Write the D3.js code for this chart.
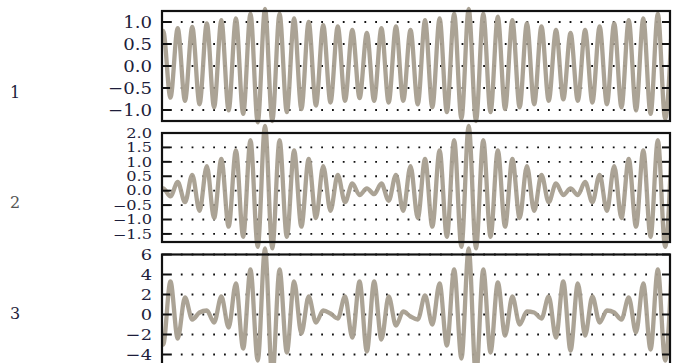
<!DOCTYPE html>
<html><head><meta charset="utf-8">
<script src="https://cdn.jsdelivr.net/npm/d3@7"></script>
<style>html,body{margin:0;padding:0;background:#fff;} svg{display:block}</style>
</head><body><svg id="c" width="673" height="363"></svg>
<script>
// Half-cycle index of each carrier extremum (even = carrier crest)
const halfCycleIndex = d3.range(-15, 57);
// Signed extremum values
const series1 = [-0.70,0.80,-0.72,0.86,-0.79,0.89,-0.87,0.97,
 -0.94,1.04,-1.01,1.08,-1.09,1.19,-1.28,1.30,
 -1.25,1.19,-1.05,1.08,-0.98,1.00,-0.90,0.93,
 -0.83,0.90,-0.79,0.82,-0.73,0.75,-0.79,0.86,
 -0.83,0.90,-0.79,0.82,-0.87,1.04,-0.94,1.08,
 -1.05,1.19,-1.20,1.30,-1.25,1.19,-1.05,1.12,
 -0.98,1.04,-0.94,0.97,-0.87,0.90,-0.79,0.82,
 -0.76,0.75,-0.79,0.82,-0.83,0.90,-0.87,0.97,
 -0.94,1.04,-1.01,1.08,-1.09,1.19,-1.20,1.25];
const series2 = [-0.12,0.08,-0.20,0.30,-0.40,0.55,-0.70,0.85,
 -0.95,1.10,-1.25,1.40,-1.60,1.75,-1.95,2.25,
 -2.00,1.75,-1.60,1.40,-1.25,1.10,-0.95,0.85,
 -0.70,0.55,-0.40,0.25,-0.15,0.08,-0.12,0.25,
 -0.35,0.55,-0.70,0.85,-0.95,1.10,-1.25,1.40,
 -1.60,1.75,-1.95,2.25,-2.00,1.75,-1.60,1.40,
 -1.25,1.10,-0.95,0.85,-0.70,0.55,-0.40,0.25,
 -0.15,0.08,-0.15,0.30,-0.40,0.55,-0.70,0.85,
 -0.95,1.10,-1.25,1.40,-1.60,1.75,-1.95,2.20];
const series3 = [2.6,-3.0,3.3,-2.4,1.7,-0.5,0.2,0.4,
 -0.8,1.8,-1.3,3.1,-3.4,4.5,-4.6,6.6,
 -6.3,4.5,-3.8,3.3,-1.9,1.8,-0.8,0.4,
 0.1,-0.4,1.8,-2.3,3.3,-3.7,3.3,-2.5,
 1.8,-1.1,0.3,-0.2,-0.5,1.9,-1.0,3.1,
 -3.1,4.5,-4.4,6.6,-6.3,4.5,-3.8,3.2,
 -2.1,1.8,-1.0,0.3,0.2,-0.4,1.8,-2.3,
 3.3,-3.6,3.1,-2.1,1.8,-0.8,0.4,0.2,
 -0.5,1.7,-1.8,3.1,-3.5,4.5,-4.6,6.5];
const panelNames = ["1", "2", "3"];
const ticks1 = [-1.0, -0.5, 0.0, 0.5, 1.0];
const ticks2 = [-1.5, -1.0, -0.5, 0.0, 0.5, 1.0, 1.5, 2.0];
const ticks3 = [-4, -2, 0, 2, 4, 6];

const panels = [
  {name: panelNames[0], values: series1, ticks: ticks1, domain: [-1.25, 1.25], top: 11, bottom: 121, fmt: ".1f", labelY: 92, fs: 16.5, sx: 1.1, dy: "0.36em"},
  {name: panelNames[1], values: series2, ticks: ticks2, domain: [-1.78, 2.0], top: 133, bottom: 242, fmt: ".1f", labelY: 202, fs: 12, sx: 1.35, dy: "0.36em"},
  {name: panelNames[2], values: series3, ticks: ticks3, domain: [-6, 6], top: 254.5, bottom: 374.5, fmt: "d", labelY: 313, fs: 15.5, sx: 1.15, dy: "0.3em"}
];

const svg = d3.select("#c");
const left = 162, right = 670;
const x = d3.scaleLinear().domain([-14.16, 55.67]).range([left, right]);

svg.append("defs").append("clipPath").attr("id", "clipx")
  .append("rect").attr("x", left).attr("y", 0).attr("width", right - left).attr("height", 363);

panels.forEach((p, pi) => {
  const y = d3.scaleLinear().domain(p.domain).range([p.bottom, p.top]);
  const g = svg.append("g");
  // dotted grid
  g.selectAll("line.grid").data(p.ticks).join("line")
    .attr("x1", left + 8).attr("x2", right - 4)
    .attr("y1", d => y(d)).attr("y2", d => y(d))
    .attr("stroke", "#111").attr("stroke-width", 1.8)
    .attr("stroke-dasharray", "1.8 9");
  // series
  const pts = halfCycleIndex.map((h, i) => [h, p.values[i]]);
  const line = d3.line().x(d => x(d[0])).y(d => y(d[1])).curve(d3.curveMonotoneX);
  g.append("path").attr("d", line(pts)).attr("clip-path", "url(#clipx)")
    .attr("fill", "none").attr("stroke", "#a69e8f").attr("stroke-width", 4.3)
    .attr("stroke-linejoin", "round").attr("opacity", 0.95);
  // inward ticks left & right
  g.selectAll("line.tl").data(p.ticks).join("line")
    .attr("x1", left).attr("x2", left + 8)
    .attr("y1", d => y(d)).attr("y2", d => y(d))
    .attr("stroke", "#111").attr("stroke-width", 2);
  g.selectAll("line.tr").data(p.ticks).join("line")
    .attr("x1", right - 8).attr("x2", right)
    .attr("y1", d => y(d)).attr("y2", d => y(d))
    .attr("stroke", "#111").attr("stroke-width", 2);
  // frame
  g.append("rect").attr("x", left).attr("y", p.top).attr("width", right - left)
    .attr("height", p.bottom - p.top).attr("fill", "none")
    .attr("stroke", "#111").attr("stroke-width", 2.2);
  // axis labels
  const ax = d3.axisLeft(y).tickValues(p.ticks).tickSize(0).tickPadding(10 / p.sx).tickFormat(d3.format(p.fmt));
  const axg = svg.append("g").attr("transform", `translate(${left},0)`).call(ax);
  axg.select(".domain").remove();
  axg.selectAll("text").attr("font-family", "DejaVu Serif").attr("font-size", p.fs)
    .attr("fill", "#1d1d3a").attr("dy", p.dy).attr("transform", `scale(${p.sx},1)`);
  // panel number
  svg.append("text").attr("x", 10).attr("y", p.labelY).attr("dy", "0.36em")
    .attr("font-family", "DejaVu Serif").attr("font-size", 16)
    .attr("fill", pi === 1 ? "#555" : "#1d1d3a").text(p.name);
});
</script></body></html>
